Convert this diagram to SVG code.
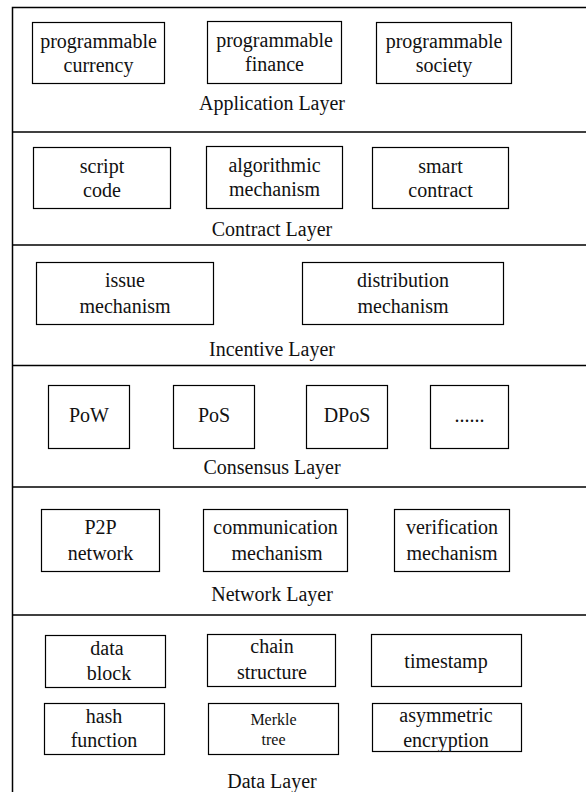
<svg xmlns="http://www.w3.org/2000/svg" width="586" height="792" viewBox="0 0 586 792">
<style>
.frame{fill:none;stroke:#000;stroke-width:1.5}
.sep{stroke:#000;stroke-width:1.5}
.box{fill:#fff;stroke:#000;stroke-width:1.2}
text{font-family:'Liberation Serif','DejaVu Serif','Noto Serif',serif;font-size:20px;fill:#111;text-anchor:middle}
.sm{font-size:16px}
</style>
<rect width="586" height="792" fill="#fff"/>
<g id="layers" font-family="Liberation Serif, DejaVu Serif, serif">
<rect class="frame" x="12.5" y="7.5" width="600" height="800"/>
<line class="sep" x1="12.5" y1="132" x2="586" y2="132"/>
<line class="sep" x1="12.5" y1="245" x2="586" y2="245"/>
<line class="sep" x1="12.5" y1="365.5" x2="586" y2="365.5"/>
<line class="sep" x1="12.5" y1="487" x2="586" y2="487"/>
<line class="sep" x1="12.5" y1="615" x2="586" y2="615"/>
<text x="272" y="110">Application Layer</text>
<text x="272" y="236">Contract Layer</text>
<text x="272" y="356">Incentive Layer</text>
<text x="272" y="474">Consensus Layer</text>
<text x="272" y="601">Network Layer</text>
<text x="272" y="788">Data Layer</text>
</g>
<g font-family="Liberation Serif, DejaVu Serif, serif">
<g id="prog-currency"><rect class="box" x="32.5" y="22.5" width="132" height="61"/><text x="98.5" y="48">programmable</text><text x="98.5" y="72">currency</text></g>
<g id="prog-finance"><rect class="box" x="207.5" y="21.5" width="134" height="62"/><text x="274.5" y="47">programmable</text><text x="274.5" y="71">finance</text></g>
<g id="prog-society"><rect class="box" x="376.5" y="22.5" width="135" height="61"/><text x="444" y="48">programmable</text><text x="444" y="72">society</text></g>

<g id="script-code"><rect class="box" x="33.5" y="147.5" width="137" height="61"/><text x="102" y="173">script</text><text x="102" y="197">code</text></g>
<g id="algorithmic"><rect class="box" x="206.5" y="146.5" width="136" height="62"/><text x="274.5" y="172">algorithmic</text><text x="274.5" y="196">mechanism</text></g>
<g id="smart-contract"><rect class="box" x="372.5" y="147.5" width="136" height="61"/><text x="440.5" y="173">smart</text><text x="440.5" y="197">contract</text></g>

<g id="issue"><rect class="box" x="36.5" y="262.5" width="177" height="62"/><text x="125" y="287">issue</text><text x="125" y="313">mechanism</text></g>
<g id="distribution"><rect class="box" x="302.5" y="262.5" width="201" height="62"/><text x="403" y="287">distribution</text><text x="403" y="313">mechanism</text></g>

<g id="pow"><rect class="box" x="48.5" y="385.5" width="81" height="63"/><text x="89" y="422">PoW</text></g>
<g id="pos"><rect class="box" x="173.5" y="385.5" width="81" height="63"/><text x="214" y="422">PoS</text></g>
<g id="dpos"><rect class="box" x="306.5" y="385.5" width="81" height="63"/><text x="347" y="422">DPoS</text></g>
<g id="more"><rect class="box" x="430.5" y="385.5" width="78" height="63"/><text x="469.5" y="422">......</text></g>

<g id="p2p"><rect class="box" x="41.5" y="509.5" width="118" height="62"/><text x="100.5" y="534">P2P</text><text x="100.5" y="560">network</text></g>
<g id="communication"><rect class="box" x="203.5" y="509.5" width="144" height="62"/><text x="275.5" y="534">communication</text><text x="277" y="560">mechanism</text></g>
<g id="verification"><rect class="box" x="394.5" y="509.5" width="115" height="62"/><text x="452" y="534">verification</text><text x="452" y="560">mechanism</text></g>

<g id="data-block"><rect class="box" x="45.5" y="635.5" width="120" height="52"/><text x="107" y="655">data</text><text x="109" y="680">block</text></g>
<g id="chain-structure"><rect class="box" x="207.5" y="634.5" width="128" height="52"/><text x="272" y="653">chain</text><text x="272" y="679">structure</text></g>
<g id="timestamp"><rect class="box" x="371.5" y="634.5" width="150" height="52"/><text x="446" y="668">timestamp</text></g>
<g id="hash-function"><rect class="box" x="44.5" y="703.5" width="120" height="51"/><text x="104" y="723">hash</text><text x="104" y="747">function</text></g>
<g id="merkle-tree"><rect class="box" x="208.5" y="703.5" width="130" height="51"/><text class="sm" x="273.5" y="725">Merkle</text><text class="sm" x="273.5" y="745">tree</text></g>
<g id="asymmetric"><rect class="box" x="372.5" y="703.5" width="149" height="48"/><text x="446" y="722">asymmetric</text><text x="446" y="747">encryption</text></g>
</g>
<g id="connectors"></g>
</svg>
